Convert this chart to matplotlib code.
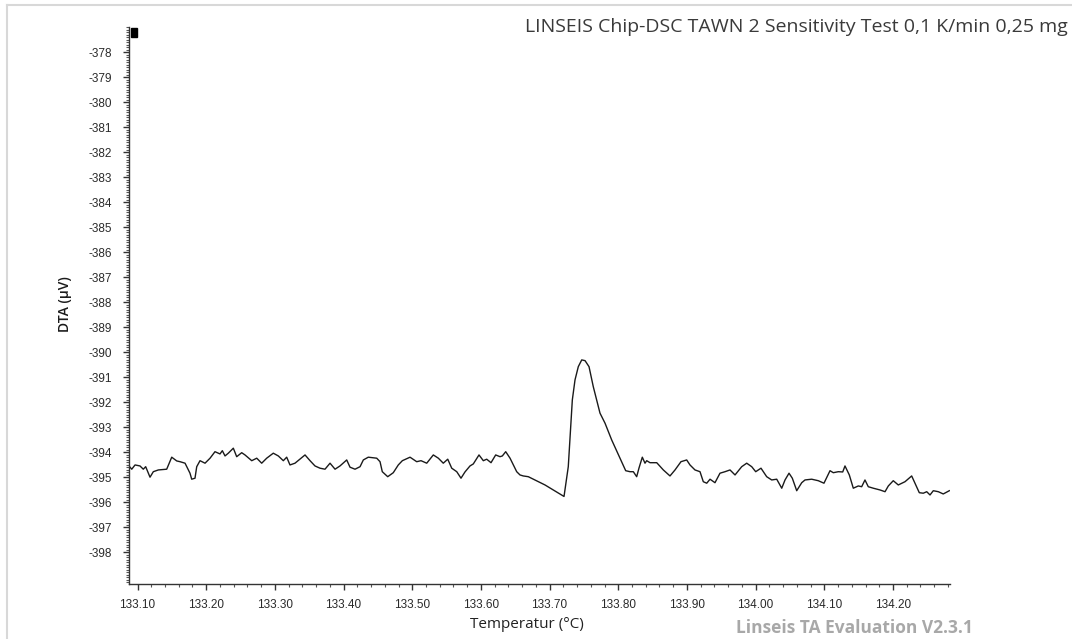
import matplotlib
matplotlib.use("Agg")
import matplotlib.pyplot as plt
from matplotlib.ticker import MultipleLocator, FixedLocator
from matplotlib.patches import Rectangle
from matplotlib.lines import Line2D

# DTA signal versus sample temperature
temperature = [
    133.0876, 133.0916, 133.0964, 133.1036, 133.1084, 133.1119, 133.1182, 133.1230,
    133.1303, 133.1425, 133.1498, 133.1571, 133.1619, 133.1692, 133.1764, 133.1789,
    133.1837, 133.1862, 133.1910, 133.1983, 133.2056, 133.2128, 133.2201, 133.2235,
    133.2274, 133.2322, 133.2395, 133.2444, 133.2517, 133.2565, 133.2663, 133.2736,
    133.2808, 133.2881, 133.2977, 133.3050, 133.3123, 133.3172, 133.3220,
    133.3293, 133.3439, 133.3512, 133.3584, 133.3657, 133.3730, 133.3803, 133.3876,
    133.3948, 133.4046, 133.4094, 133.4167, 133.4240, 133.4288, 133.4360, 133.4483,
    133.4531, 133.4564, 133.4643, 133.4724, 133.4797, 133.4856, 133.4968, 133.5065,
    133.5128, 133.5211, 133.5307, 133.5380, 133.5452, 133.5517, 133.5575, 133.5648,
    133.5710,
    133.5768, 133.5841, 133.5889, 133.5972, 133.6035, 133.6084, 133.6147, 133.6215,
    133.6278, 133.6312, 133.6361, 133.6424, 133.6472, 133.6521, 133.6569, 133.6617,
    133.6690, 133.6933, 133.7210, 133.7272, 133.7331, 133.7370, 133.7418, 133.7468,
    133.7516, 133.7574, 133.7636, 133.7734, 133.7807, 133.7904, 133.8025, 133.8108,
    133.8171, 133.8219, 133.8268,
    133.8302, 133.8350, 133.8389, 133.8414, 133.8462, 133.8560, 133.8656, 133.8753,
    133.8826, 133.8913, 133.8996, 133.9044, 133.9117, 133.9190, 133.9238, 133.9288,
    133.9336, 133.9408, 133.9481, 133.9554, 133.9627, 133.9700, 133.9797, 133.9870,
    133.9943, 134.0001, 134.0078, 134.0161, 134.0234, 134.0307, 134.0380, 134.0428,
    134.0486, 134.0534, 134.0598, 134.0671,
    134.0719, 134.0816, 134.0912, 134.0995, 134.1083, 134.1131, 134.1204, 134.1268,
    134.1301, 134.1364, 134.1422, 134.1495, 134.1544, 134.1592, 134.1640, 134.1713,
    134.1811, 134.1884, 134.1932, 134.2004, 134.2077, 134.2175, 134.2272, 134.2320,
    134.2383, 134.2441, 134.2491, 134.2539, 134.2587, 134.2660, 134.2732, 134.2820,
]

dta_uv = [
    -394.55, -394.68, -394.51, -394.55, -394.68, -394.58, -395.00, -394.78,
    -394.71, -394.68, -394.20, -394.35, -394.38, -394.44, -394.84, -395.08,
    -395.04, -394.58, -394.34, -394.44, -394.24, -393.98, -394.07, -393.94,
    -394.15, -394.04, -393.84, -394.18, -394.02, -394.11, -394.34, -394.24,
    -394.44, -394.24, -394.04, -394.15, -394.34, -394.20, -394.51,
    -394.44, -394.11, -394.34, -394.55, -394.64, -394.68, -394.44, -394.68,
    -394.55, -394.31, -394.60, -394.68, -394.58, -394.31, -394.20, -394.24,
    -394.38, -394.78, -394.98, -394.82, -394.51, -394.34, -394.20, -394.38,
    -394.34, -394.44, -394.11, -394.24, -394.44, -394.28, -394.64, -394.78,
    -395.04,
    -394.79, -394.55, -394.47, -394.11, -394.34, -394.28, -394.42, -394.11,
    -394.18, -394.15, -393.98, -394.24, -394.51, -394.78, -394.91, -394.95,
    -394.98, -395.31, -395.77, -394.58, -391.91, -391.11, -390.58, -390.31,
    -390.34, -390.58, -391.38, -392.44, -392.84, -393.51, -394.24, -394.74,
    -394.78, -394.78, -394.98,
    -394.63, -394.20, -394.44, -394.34, -394.42, -394.42, -394.71, -394.95,
    -394.71, -394.38, -394.31, -394.51, -394.71, -394.78, -395.18, -395.24,
    -395.08, -395.22, -394.84, -394.78, -394.71, -394.91, -394.58, -394.44,
    -394.58, -394.78, -394.64, -394.98, -395.11, -395.08, -395.44, -395.11,
    -394.84, -395.04, -395.54, -395.22,
    -395.11, -395.08, -395.14, -395.24, -394.74, -394.82, -394.78, -394.79,
    -394.55, -394.91, -395.44, -395.35, -395.38, -395.11, -395.38, -395.44,
    -395.51, -395.58, -395.35, -395.14, -395.31, -395.18, -394.95, -395.24,
    -395.62, -395.64, -395.58, -395.71, -395.54, -395.58, -395.67, -395.54,
]

x_ticks = [133.10, 133.20, 133.30, 133.40, 133.50, 133.60, 133.70,
           133.80, 133.90, 134.00, 134.10, 134.20]
y_ticks = list(range(-378, -399, -1))

title = "LINSEIS Chip-DSC TAWN 2 Sensitivity Test 0,1 K/min 0,25 mg"
x_label = "Temperatur (°C)"
y_label = "DTA (µV)"
footer = "Linseis TA Evaluation V2.3.1"

plt.rcParams["axes.unicode_minus"] = False
plt.rcParams["font.family"] = ["Liberation Sans", "DejaVu Sans"]

W, H = 1072, 639
fig = plt.figure(figsize=(W / 100, H / 100), dpi=100)
fig.patch.set_facecolor("white")

# light frame around the report page
fig.add_artist(Line2D([7 / W, 7 / W], [0, 1 - 5 / H], transform=fig.transFigure,
                      color="#d8d8d8", lw=1.5))
fig.add_artist(Line2D([7 / W, 1], [1 - 5 / H, 1 - 5 / H], transform=fig.transFigure,
                      color="#d8d8d8", lw=1.5))

ax = fig.add_axes([129 / W, 1 - 584 / H, (950 - 129) / W, (584 - 27) / H])
ax.plot(temperature, dta_uv, color="#1a1a1a", lw=1.0)

ax.set_xlim(133.0876, 134.283)
ax.set_ylim(-399.27, -377.0)

for side in ("top", "right"):
    ax.spines[side].set_visible(False)
for side in ("left", "bottom"):
    ax.spines[side].set_color("#333333")
    ax.spines[side].set_linewidth(1.0)

ax.xaxis.set_major_locator(FixedLocator(x_ticks))
ax.set_xticklabels([f"{t:.2f}" for t in x_ticks])
ax.xaxis.set_minor_locator(MultipleLocator(0.02))
ax.yaxis.set_major_locator(FixedLocator(y_ticks))
ax.set_yticklabels([str(t) for t in y_ticks])
ax.yaxis.set_minor_locator(MultipleLocator(0.1))

ax.tick_params(axis="both", which="major", length=4, width=1.0, color="#333333",
               labelsize=8.5, labelcolor="#2a2a2a")
ax.tick_params(axis="both", which="minor", length=2, width=0.8, color="#555555")
ax.tick_params(axis="x", which="major", pad=7)
ax.tick_params(axis="y", which="major", pad=8)

ax.set_xlabel(x_label, fontsize=11, color="#222222", family=["Open Sans", "DejaVu Sans"])
ax.xaxis.set_label_coords((527 - 129) / (950 - 129), -(617 - 584) / (584 - 27))
ax.set_ylabel(y_label, fontsize=10, color="#1a1a1a", weight="semibold",
              family=["Open Sans", "DejaVu Sans"])
ax.yaxis.set_label_coords(-(129 - 72) / (950 - 129), (584 - 304) / (584 - 27))

# cursor marker at the top of the y axis
ax.add_patch(Rectangle((0.0025, 0.982), 0.007, 0.016, transform=ax.transAxes,
                       color="black", clip_on=False))

fig.text(1068 / W, 1 - 27 / H, title, ha="right", va="center", fontsize=14,
         color="#3a3a3a", family=["Open Sans", "DejaVu Sans"])
fig.text(854 / W, 2 / H, footer, ha="center", va="bottom", fontsize=12.5,
         color="#a8a8a8", weight="bold", family=["Open Sans", "DejaVu Sans"])

fig.savefig("out.png", dpi=100, facecolor="white")
